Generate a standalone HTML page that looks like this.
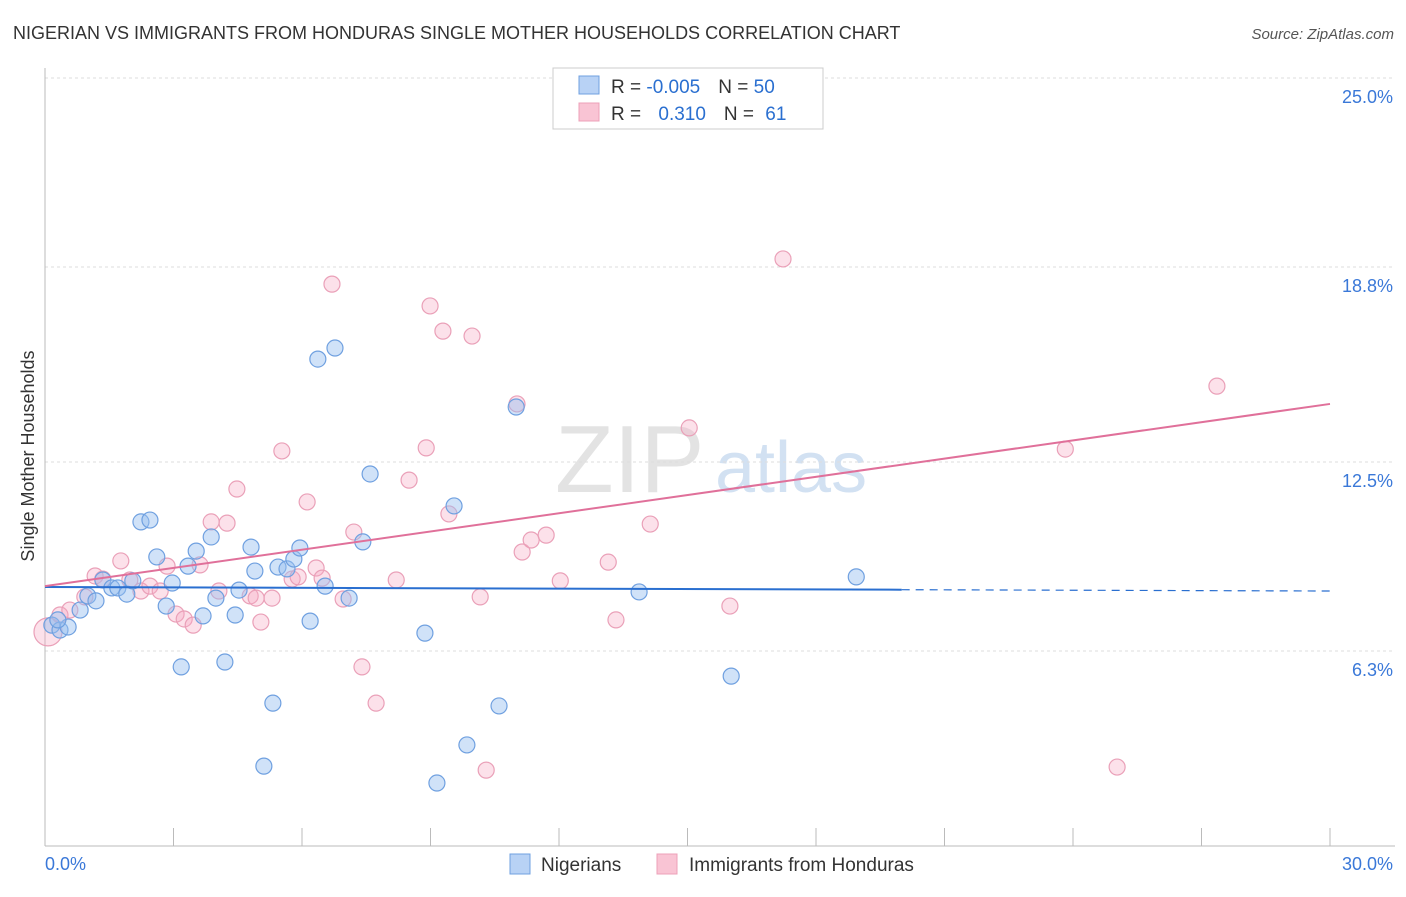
<!DOCTYPE html>
<html><head><meta charset="utf-8">
<style>
body{margin:0;background:#fff;font-family:"Liberation Sans",sans-serif;}
svg text{font-family:"Liberation Sans",sans-serif;}
</style></head>
<body>
<svg id="chart" width="1406" height="892" xmlns="http://www.w3.org/2000/svg">
<text x="13" y="39" font-size="18" fill="#333">NIGERIAN VS IMMIGRANTS FROM HONDURAS SINGLE MOTHER HOUSEHOLDS CORRELATION CHART</text>
<text x="1394" y="39" font-size="15" fill="#555" text-anchor="end" font-style="italic">Source: ZipAtlas.com</text>
<g>
<text x="555" y="492" font-size="96" fill="#ddd" font-family="Liberation Serif" opacity="0.8">ZIP</text>
<text x="715" y="492" font-size="72" fill="#c8daf0" opacity="0.8">atlas</text>
</g>
<g id="grid"></g>
<g id="axes"></g>
<g id="points"></g>
<g id="trends"></g>
<text transform="translate(34,456) rotate(-90)" font-size="18" fill="#333" text-anchor="middle">Single Mother Households</text>
<g>
<rect x="553" y="68" width="270" height="61" fill="#fff" stroke="#ccc"/>
<rect x="579" y="76" width="20" height="18" fill="#b8d2f5" stroke="#6fa0e0"/>
<rect x="579" y="103" width="20" height="18" fill="#f9c4d4" stroke="#eda0b8"/>
<text x="611" y="93" font-size="19" fill="#333">R = <tspan fill="#2a6fd0">-0.005</tspan><tspan dx="18">N = </tspan><tspan fill="#2a6fd0">50</tspan></text>
<text x="611" y="120" font-size="19" fill="#333">R = <tspan fill="#2a6fd0" dx="12">0.310</tspan><tspan dx="18">N = </tspan><tspan fill="#2a6fd0" dx="6">61</tspan></text>
</g>
<g>
<rect x="510" y="854" width="20" height="20" fill="#b8d2f5" stroke="#6fa0e0"/>
<text x="541" y="871" font-size="19" fill="#333">Nigerians</text>
<rect x="657" y="854" width="20" height="20" fill="#f9c4d4" stroke="#eda0b8"/>
<text x="689" y="871" font-size="19" fill="#333">Immigrants from Honduras</text>
</g>
</svg>
<script>
const yTicks=[6.3,12.5,18.8,25.0];
const yTickLabels=["6.3%","12.5%","18.8%","25.0%"];
const xTickLabels=["0.0%","30.0%"];
const blueX=[0.16,0.35,0.54,0.82,1.00,1.19,1.35,1.56,1.70,1.91,2.05,2.24,2.45,2.61,2.83,2.97,3.18,3.34,3.53,3.69,3.88,3.99,4.20,4.44,4.53,4.81,4.90,5.32,5.11,5.44,5.65,5.81,5.95,6.19,6.37,6.54,6.77,7.10,7.42,7.59,8.87,9.15,9.55,9.85,10.60,11.00,13.87,16.02,18.94,0.30];
const blueY=[7.19,7.03,7.13,7.68,8.14,7.98,8.66,8.40,8.40,8.20,8.63,10.55,10.61,9.41,7.81,8.56,5.83,9.11,9.60,7.49,10.06,8.07,5.99,7.52,8.33,9.73,8.95,4.65,2.60,9.08,9.02,9.34,9.70,7.32,15.85,8.46,16.21,8.07,9.90,12.11,6.93,2.05,11.07,3.29,4.56,14.29,8.27,5.53,8.76,7.36];
const pinkX=[0.07,0.35,0.58,0.93,1.17,1.35,1.77,1.98,2.24,2.45,2.69,2.85,3.06,3.25,3.46,3.62,3.88,4.06,4.25,4.48,4.79,4.93,5.04,5.30,5.53,5.77,5.91,6.12,6.33,6.47,6.70,6.96,7.21,7.40,7.73,8.20,8.50,8.90,8.99,9.29,9.43,9.97,10.16,10.30,11.02,11.14,11.35,11.70,12.03,13.15,13.33,14.13,15.04,15.99,17.23,23.82,25.03,27.36];
const pinkY=[6.97,7.52,7.68,8.11,8.79,8.69,9.28,8.66,8.30,8.46,8.30,9.11,7.55,7.39,7.19,9.15,10.55,8.30,10.51,11.62,8.14,8.07,7.29,8.07,12.86,8.69,8.76,11.20,9.05,8.72,18.29,8.04,10.22,5.83,4.65,8.66,11.91,12.96,17.58,16.76,10.81,16.60,8.11,2.47,14.39,9.57,9.96,10.12,8.63,9.24,7.36,10.48,13.61,7.81,19.11,12.92,2.57,14.97];
const blueTrend=[8.43,8.30];
const pinkTrend=[8.46,14.39];
const NS="http://www.w3.org/2000/svg";
const X0=45,X1=1330,YB=846,PY=30.72;
function sx(v){return X0+v*(X1-X0)/30;}
function sy(v){return YB-v*PY;}
function mk(tag,attrs,parent){const e=document.createElementNS(NS,tag);for(const k in attrs)e.setAttribute(k,attrs[k]);parent.appendChild(e);return e;}
const grid=document.getElementById('grid'),axes=document.getElementById('axes'),pts=document.getElementById('points'),tr=document.getElementById('trends');
yTicks.forEach((t,i)=>{
 const yy=sy(t===25.0?25.0:t)-(t===6.3?1.5:t===18.8?1.5:0);
 const l=mk('line',{x1:X0,x2:1395,y1:yy,y2:yy,stroke:'#ddd','stroke-dasharray':'3,3'},grid);
 
 
 const tx=mk('text',{x:1393,y:yy+25,'font-size':18,fill:'#3a78d8','text-anchor':'end'},axes);
 tx.textContent=yTickLabels[i];
 
 
});
mk('line',{x1:X0,x2:X0,y1:68,y2:YB,stroke:'#bbb'},axes);
mk('line',{x1:X0,x2:1395,y1:YB,y2:YB,stroke:'#bbb'},axes);
for(let i=0;i<=10;i++){const xx=sx(i*3);mk('line',{x1:xx,x2:xx,y1:YB,y2:YB-18,stroke:'#bbb'},axes);}
const xl=mk('text',{x:45,y:870,'font-size':18,fill:'#3a78d8'},axes);xl.textContent=xTickLabels[0];


const xr=mk('text',{x:1393,y:870,'font-size':18,fill:'#3a78d8','text-anchor':'end'},axes);xr.textContent=xTickLabels[1];


pinkX.forEach((v,i)=>{
 const c=mk('circle',{cx:sx(v),cy:sy(pinkY[i]),r:i===0?14:8,fill:'rgba(245,170,195,0.35)',stroke:'#eaa0b8','stroke-width':1.2},pts);
 
 
});
blueX.forEach((v,i)=>{
 const c=mk('circle',{cx:sx(v),cy:sy(blueY[i]),r:8,fill:'rgba(150,190,240,0.45)',stroke:'#6fa0e0','stroke-width':1.2},pts);
 
 
});
function ty(tv,x){return tv[0]+(tv[1]-tv[0])*x/30;}
const bxEnd=20;
const b1=mk('line',{x1:sx(0),y1:sy(ty(blueTrend,0)),x2:sx(bxEnd),y2:sy(ty(blueTrend,bxEnd)),stroke:'#2a6fd0','stroke-width':2},tr);


const b2=mk('line',{x1:sx(bxEnd),y1:sy(ty(blueTrend,bxEnd)),x2:sx(30),y2:sy(ty(blueTrend,30)),stroke:'#2a6fd0','stroke-width':1.2,'stroke-dasharray':'8,6'},tr);


const p1=mk('line',{x1:sx(0),y1:sy(ty(pinkTrend,0)),x2:sx(30),y2:sy(ty(pinkTrend,30)),stroke:'#e0709a','stroke-width':2},tr);


</script>
</body></html>
